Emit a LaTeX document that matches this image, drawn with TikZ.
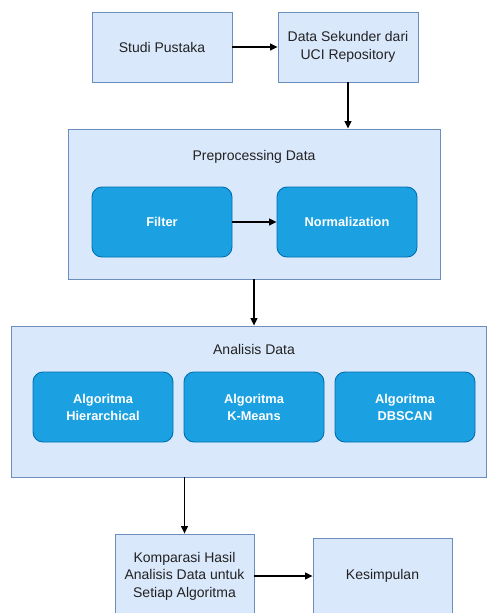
\documentclass[tikz,border=0pt]{standalone}
\usepackage{fontspec}
\setmainfont{Liberation Sans}
\usetikzlibrary{arrows.meta}
\definecolor{lightfill}{HTML}{DAE8FC}
\definecolor{lightline}{HTML}{6C8EBF}
\definecolor{darkfill}{HTML}{1BA1E2}
\definecolor{darkline}{HTML}{006EAF}
\definecolor{txt}{HTML}{222222}
\begin{document}
\begin{tikzpicture}[x=1pt,y=-1pt,
  lightbox/.style={draw=lightline,fill=lightfill,line width=0.9pt,inner sep=0pt,
    text=txt,align=center,font=\fontsize{14}{17.5}\selectfont},
  darkbox/.style={draw=darkline,fill=darkfill,line width=0.9pt,rounded corners=10pt,
    inner sep=0pt,minimum width=140pt,minimum height=70pt,text=white,align=center,
    font=\fontsize{12.8}{17}\selectfont\bfseries},
  title/.style={text=txt,font=\fontsize{14}{17.5}\selectfont},
  conn/.style={line width=1.1pt,-{Triangle[length=7.5pt,width=7pt]}}]
\useasboundingbox[clip] (0,0) rectangle (488,613);
\fill[white] (0,0) rectangle (488,613);
\node[lightbox,minimum width=140pt,minimum height=70pt] (studi) at (162,47) {Studi Pustaka};
\node[lightbox,minimum width=140pt,minimum height=70pt] (data) at (348,47) {Data Sekunder dari\\UCI Repository};
\node[lightbox,minimum width=372pt,minimum height=150pt] (prep) at (254,204) {};
\node[title] (preptitle) at (254,157) {Preprocessing Data};
\node[darkbox] (filter) at (162,222) {Filter};
\node[darkbox] (norm) at (347,222) {Normalization};
\node[lightbox,minimum width=475pt,minimum height=151pt] (anal) at (248.5,401.5) {};
\node[title] (analtitle) at (254,349) {Analisis Data};
\node[darkbox] (alg1) at (103,407) {Algoritma\\Hierarchical};
\node[darkbox] (alg2) at (254,407) {Algoritma\\K-Means};
\node[darkbox] (alg3) at (405,407) {Algoritma\\DBSCAN};
\node[lightbox,minimum width=139pt,minimum height=84pt] (komp) at (184.5,576) {Komparasi Hasil\\Analisis Data untuk\\Setiap Algoritma};
\node[lightbox,minimum width=139pt,minimum height=76pt] (kes) at (382.5,576) {Kesimpulan};
\draw[conn] (studi) -- (data);
\draw[conn] (data.south) -- (data.south |- prep.north);
\draw[conn] (filter) -- (norm);
\draw[conn] (prep.south) -- (prep.south |- anal.north);
\draw[conn] (komp.north |- anal.south) -- (komp.north);
\draw[conn] (komp) -- (kes);
\end{tikzpicture}
\end{document}
